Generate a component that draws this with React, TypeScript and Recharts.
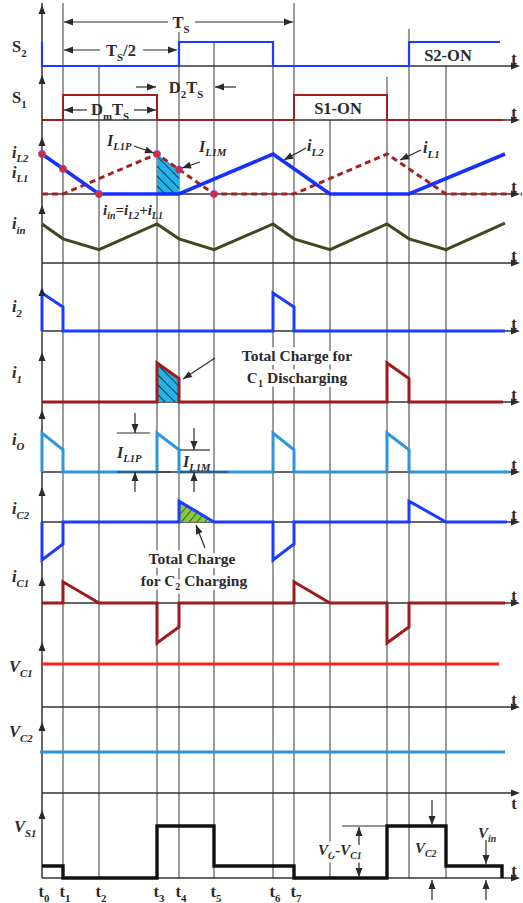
import React from "react";
import { Area, ComposedChart, Line, ReferenceLine, Scatter, XAxis, YAxis } from "recharts";

const W = 523;
const H = 903;
const X0 = 42; // pixel column of t0
const BOTTOM = 878;

// switching instants t0 .. t11 (same time unit everywhere)
const instants = [0, 21, 57, 115, 137, 172, 231, 252, 288, 345, 367, 404];
const instantTops = [3, 3, 66, 95, 32, 42, 42, 3, 120, 77, 29, 66];
const tickNames = ["t_{0}", "t_{1}", "t_{2}", "t_{3}", "t_{4}", "t_{5}", "t_{6}", "t_{7}"];

// waveforms as [t, value]
const s2 = [[0, 1], [0, 0], [137, 0], [137, 1], [231, 1], [231, 0], [367, 0], [367, 1], [458, 1]];
const s1 = [[0, 0], [21, 0], [21, 1], [115, 1], [115, 0], [252, 0], [252, 1], [345, 1], [345, 0], [461, 0]];
const iL2 = [[0, 1], [57, 0], [137, 0], [231, 1], [288, 0], [367, 0], [463, 1]];
const iL1 = [[0, 0], [21, 0], [115, 1], [172, 0], [252, 0], [345, 1], [404, 0], [480, 0]];
const iLDots = [[0, 1], [21, 0.63], [57, 0], [115, 1], [137, 0.61], [172, 0]];
const iLCharge = [[115, 1], [137, 0.61]];
const iin = [[0, 1], [21, 0.62], [57, 0.34], [115, 1], [137, 0.62], [172, 0.34], [231, 1], [252, 0.62], [288, 0.34], [345, 1], [367, 0.62], [404, 0.34], [463, 1.02]];
const i2 = [[0, 0], [0, 1], [21, 0.63], [21, 0], [231, 0], [231, 1], [252, 0.63], [252, 0], [463, 0]];
const i1 = [[0, 0], [115, 0], [115, 1], [137, 0.6], [137, 0], [345, 0], [345, 1], [367, 0.6], [367, 0], [461, 0]];
const i1Charge = [[115, 1], [137, 0.6]];
const io = [[0, 0], [0, 1], [21, 0.57], [21, 0], [115, 0], [115, 1], [137, 0.57], [137, 0], [231, 0], [231, 1], [252, 0.57], [252, 0], [345, 0], [345, 1], [367, 0.57], [367, 0], [468, 0]];
const iC2 = [[0, 0], [0, -1], [21, -0.58], [21, 0], [137, 0], [137, 0.55], [172, 0], [231, 0], [231, -1], [252, -0.58], [252, 0], [367, 0], [367, 0.55], [404, 0], [465, 0]];
const iC2Charge = [[137, 0.55], [172, 0]];
const iC1 = [[0, 0], [21, 0], [21, 0.53], [57, 0], [115, 0], [115, -1], [137, -0.6], [137, 0], [252, 0], [252, 0.53], [288, 0], [345, 0], [345, -1], [367, -0.6], [367, 0], [463, 0]];
const vC1 = [[0, 1], [457, 1]];
const vC2 = [[-2, 1], [463, 1]];
const vS1 = [[0, 0.23], [21, 0.23], [21, 0], [115, 0], [115, 1], [172, 1], [172, 0.23], [252, 0.23], [252, 0], [345, 0], [345, 1], [404, 1], [404, 0.23], [460, 0.23], [460, 0]];

// panel layout: [pixel row of the t axis, pixels per unit, arrow tip row]
const panels: Record<string, number[]> = {
  s2: [66, 24, 5],
  s1: [120, 25, 75],
  iL: [194, 40, 137],
  iin: [263, 39, 205],
  i2: [331, 38, 287],
  i1: [402, 39, 352],
  io: [472, 39, 410],
  iC2: [522, 38, 487],
  iC1: [603, 40, 577],
  vC1: [707, 43, 642],
  vC2: [793, 41, 722],
  vS1: [878, 52, 810],
};

// annotation arrows [x1, y1, x2(tip), y2(tip)] in page pixels
const arrows = [
  [168, 22, 64, 22], [195, 22, 293, 22],
  [100, 50, 64, 50], [143, 50, 177, 50],
  [87, 110, 64, 110], [134, 110, 156, 110],
  [136, 87, 156, 87], [236, 87, 215, 87],
  [134, 146, 154, 153], [200, 162, 182, 168], [306, 148, 284, 160], [421, 150, 400, 160],
  [215, 358, 183, 379], [205, 548, 196, 525],
  [135, 413, 135, 433], [135, 492, 135, 472], [194, 428, 194, 450], [194, 492, 194, 472],
  [359, 845, 359, 827], [359, 860, 359, 877],
  [432, 800, 432, 825], [432, 900, 432, 880],
  [486, 840, 486, 864], [486, 900, 486, 880],
];
const bars = [
  [117, 433, 150, 433], [117, 472, 170, 472], [180, 450, 210, 450], [180, 472, 228, 472], [342, 826, 387, 826],
];

type Lbl = { x: number; y: number; s: string; it?: boolean; size?: number; anchor?: string; halo?: boolean };
const labels: Lbl[] = [
  { x: 12, y: 52, s: "S_{2}" },
  { x: 12, y: 103, s: "S_{1}" },
  { x: 12, y: 158, s: "i_{L2}", it: true, size: 16 },
  { x: 12, y: 178, s: "i_{L1}", it: true, size: 16 },
  { x: 12, y: 229, s: "i_{in}", it: true },
  { x: 12, y: 312, s: "i_{2}", it: true },
  { x: 12, y: 378, s: "i_{1}", it: true },
  { x: 12, y: 445, s: "i_{O}", it: true },
  { x: 12, y: 514, s: "i_{C2}", it: true },
  { x: 12, y: 582, s: "i_{C1}", it: true },
  { x: 9, y: 672, s: "V_{C1}", it: true },
  { x: 9, y: 737, s: "V_{C2}", it: true },
  { x: 14, y: 832, s: "V_{S1}", it: true },
  { x: 181, y: 28, s: "T_{S}", anchor: "middle" },
  { x: 121, y: 56, s: "T_{S}/2", anchor: "middle" },
  { x: 186, y: 93, s: "D_{2}T_{S}", anchor: "middle" },
  { x: 110, y: 115, s: "D_{m}T_{S}", anchor: "middle" },
  { x: 448, y: 61, s: "S2-ON", anchor: "middle" },
  { x: 338, y: 114, s: "S1-ON", anchor: "middle" },
  { x: 107, y: 146, s: "I_{L1P}", it: true, size: 16 },
  { x: 199, y: 152, s: "I_{L1M}", it: true, size: 16 },
  { x: 307, y: 151, s: "i_{L2}", it: true },
  { x: 423, y: 153, s: "i_{L1}", it: true },
  { x: 103, y: 215, s: "i_{in}=i_{L2}+i_{L1}", it: true, size: 15 },
  { x: 297, y: 361, s: "Total Charge for", anchor: "middle", size: 15.5, halo: true },
  { x: 297, y: 383, s: "C_{1} Discharging", anchor: "middle", size: 15.5, halo: true },
  { x: 117, y: 458, s: "I_{L1P}", it: true, size: 16 },
  { x: 183, y: 467, s: "I_{L1M}", it: true, size: 16 },
  { x: 192, y: 564, s: "Total Charge", anchor: "middle", size: 15.5, halo: true },
  { x: 194, y: 586, s: "for C_{2} Charging", anchor: "middle", size: 15.5, halo: true },
  { x: 318, y: 855, s: "V_{O}-V_{C1}", it: true, size: 15, halo: true },
  { x: 415, y: 853, s: "V_{C2}", it: true, size: 15 },
  { x: 478, y: 838, s: "V_{in}", it: true, size: 15 },
];

const pts = (a: number[][]) => a.map(([t, v]) => ({ t, v }));
const FONT = "'Liberation Serif', 'Times New Roman', serif";
const INK = "#2a2a2a";

function TextShape(props: any) {
  const { cx, cy, payload } = props;
  const size = payload.size ?? 16.5;
  const shift = size * 0.28;
  const parts = payload.s.split(/(_\{[^}]*\})/).filter(Boolean);
  let prevSub = false;
  return (
    <text
      x={cx}
      y={cy}
      textAnchor={payload.anchor ?? "start"}
      fontFamily={FONT}
      fontWeight="bold"
      fontStyle={payload.it ? "italic" : "normal"}
      fontSize={size}
      fill={INK}
      stroke={payload.halo ? "#fff" : "none"}
      strokeWidth={payload.halo ? 7 : 0}
      style={{ paintOrder: "stroke" }}
    >
      {parts.map((p: string, i: number) => {
        const sub = p.startsWith("_{");
        const dy = (sub ? shift : 0) - (prevSub ? shift : 0);
        prevSub = sub;
        return (
          <tspan key={i} dy={dy} fontSize={sub ? size * 0.66 : size}>
            {sub ? p.slice(2, -1) : p}
          </tspan>
        );
      })}
    </text>
  );
}

function HeadShape(props: any) {
  const { cx, cy, payload } = props;
  return <path d="M0,0 L-9,-3.5 L-9,3.5 Z" fill={INK} transform={`translate(${cx},${cy}) rotate(${payload.ang})`} />;
}

function DotShape(props: any) {
  return <circle cx={props.cx} cy={props.cy} r={3.6} fill="#e3262b" stroke="#5a5aff" strokeWidth={0.8} />;
}

export default function App() {
  const panelEntries = Object.entries(panels);
  const heads = [
    ...arrows.map(([x1, y1, x2, y2]) => ({ t: x2 - X0, y: y2, ang: (Math.atan2(y2 - y1, x2 - x1) * 180) / Math.PI })),
    ...panelEntries.map(([, p]) => ({ t: 0, y: p[2], ang: -90 })),
    ...panelEntries.map(([, p]) => ({ t: 520 - X0, y: p[0], ang: 0 })),
  ];
  const textPts = [
    ...labels.map((l) => ({ ...l, t: l.x - X0 })),
    ...panelEntries.map(([id, p]) => ({ t: 514 - X0, y: id === "vC2" ? p[0] + 16 : p[0] - 2, s: "t", anchor: "middle" })),
    ...tickNames.map((s, i) => ({ t: instants[i] + 2, y: 897, s, anchor: "middle" })),
  ];

  const wave = (id: string, data: number[][], color: string, width = 3, dash?: string) => (
    <Line
      yAxisId={id}
      data={pts(data)}
      dataKey="v"
      type="linear"
      stroke={color}
      strokeWidth={width}
      strokeDasharray={dash}
      dot={false}
      activeDot={false}
      isAnimationActive={false}
    />
  );

  return (
    <div style={{ position: "absolute", left: 0, top: 0, width: W, height: H, background: "#fff" }}>
      <ComposedChart width={W} height={H} margin={{ top: 0, right: 0, bottom: 0, left: 0 }}>
        <defs>
          <pattern id="hatchBlue" patternUnits="userSpaceOnUse" width="7" height="7" patternTransform="rotate(-45)">
            <rect width="7" height="7" fill="#22b4e8" />
            <line x1="0" y1="0" x2="0" y2="7" stroke="#111" strokeWidth="1.6" />
          </pattern>
          <pattern id="hatchGreen" patternUnits="userSpaceOnUse" width="6" height="6" patternTransform="rotate(40)">
            <rect width="6" height="6" fill="#86c73e" />
            <line x1="0" y1="0" x2="0" y2="6" stroke="#1c3a10" strokeWidth="1.4" />
          </pattern>
        </defs>
        <XAxis type="number" dataKey="t" domain={[-X0, W - X0]} allowDataOverflow hide />
        <YAxis yAxisId="px" type="number" domain={[0, H]} reversed allowDataOverflow hide />
        {panelEntries.map(([id, p]) => (
          <YAxis key={id} yAxisId={id} type="number" domain={[(p[0] - H) / p[1], p[0] / p[1]]} allowDataOverflow hide />
        ))}

        {instants.slice(1).map((t, i) => (
          <ReferenceLine
            key={"g" + t}
            yAxisId="px"
            segment={[{ x: t, y: instantTops[i + 1] }, { x: t, y: BOTTOM }]}
            stroke="#4a4a4a"
            strokeWidth={1.1}
            zIndex={-50}
          />
        ))}
        <ReferenceLine yAxisId="px" segment={[{ x: 0, y: 3 }, { x: 0, y: BOTTOM }]} stroke="#333" strokeWidth={1.5} zIndex={-40} />
        {panelEntries.map(([id, p]) => (
          <ReferenceLine key={"ax" + id} yAxisId="px" segment={[{ x: 0, y: p[0] }, { x: 516 - X0, y: p[0] }]} stroke="#333" strokeWidth={1.5} zIndex={-40} />
        ))}

        <Area yAxisId="iL" data={pts(iLCharge)} dataKey="v" type="linear" fill="url(#hatchBlue)" fillOpacity={1} stroke="none" isAnimationActive={false} />
        <Area yAxisId="i1" data={pts(i1Charge)} dataKey="v" type="linear" fill="url(#hatchBlue)" fillOpacity={1} stroke="none" isAnimationActive={false} />
        <Area yAxisId="iC2" data={pts(iC2Charge)} dataKey="v" type="linear" fill="url(#hatchGreen)" fillOpacity={1} stroke="none" isAnimationActive={false} />

        {wave("s2", s2, "#1a3cff", 2.2)}
        {wave("s1", s1, "#a31d1d", 2)}
        {wave("iL", iL1, "#a52222", 3, "6 4")}
        {wave("iL", iL2, "#1530ff", 3.6)}
        {wave("iin", iin, "#454522", 3)}
        {wave("i2", i2, "#1a3cff", 3)}
        {wave("i1", i1, "#9e1b1b", 3)}
        {wave("io", io, "#2f95dc", 3)}
        {wave("iC2", iC2, "#1a3cff", 3)}
        {wave("iC1", iC1, "#9e1b1b", 3)}
        {wave("vC1", vC1, "#ff2020", 3.2)}
        {wave("vC2", vC2, "#2f8fdc", 3.2)}
        {wave("vS1", vS1, "#111111", 3.4)}

        <Scatter yAxisId="iL" data={pts(iLDots)} dataKey="v" shape={DotShape} isAnimationActive={false} />

        {[...arrows, ...bars].map(([x1, y1, x2, y2], i) => (
          <ReferenceLine
            key={"a" + i}
            yAxisId="px"
            segment={[{ x: x1 - X0, y: y1 }, { x: x2 - X0, y: y2 }]}
            stroke={INK}
            strokeWidth={1.2}
            zIndex={1500}
          />
        ))}
        <Scatter yAxisId="px" data={heads} dataKey="y" shape={HeadShape} isAnimationActive={false} zIndex={2500} />
        <Scatter yAxisId="px" data={textPts} dataKey="y" shape={TextShape} isAnimationActive={false} zIndex={2600} />
      </ComposedChart>
    </div>
  );
}
